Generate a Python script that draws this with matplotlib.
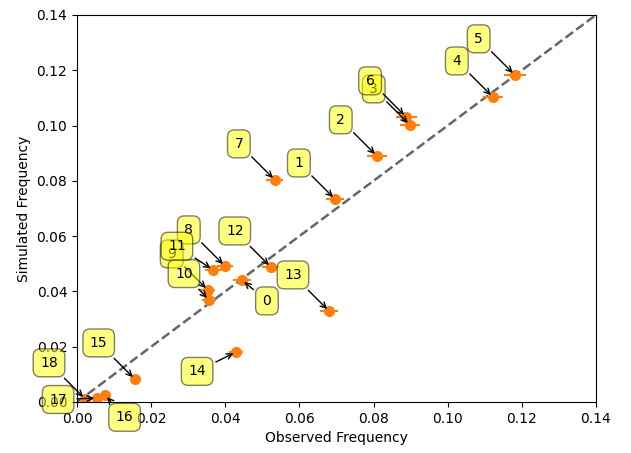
import matplotlib
matplotlib.use("Agg")
import matplotlib.pyplot as plt
import numpy as np

labels = [str(i) for i in range(19)]
observed = [0.0445, 0.0696, 0.0809, 0.0898, 0.1122, 0.1181, 0.0888, 0.0534,
            0.0399, 0.0353, 0.0356, 0.0367, 0.0523, 0.0680, 0.0429, 0.0156,
            0.0076, 0.0054, 0.0022]
simulated = [0.0441, 0.0734, 0.0890, 0.1002, 0.1103, 0.1183, 0.1031, 0.0803,
             0.0492, 0.0405, 0.0369, 0.0478, 0.0488, 0.0329, 0.0181, 0.0083,
             0.0025, 0.0014, 0.0011]
obs_err = [0.0024, 0.0024, 0.0026, 0.0028, 0.0028, 0.0030, 0.0028, 0.0023,
           0.0022, 0.0020, 0.0020, 0.0021, 0.0023, 0.0024, 0.0020, 0.0012,
           0.0008, 0.0007, 0.0005]

# label offsets in points (dx, dy) from the point to the label centre
offsets = {
    "0": (18, -15), "10": (-18, 19), "11": (-26, 17), "14": (-28, -14),
    "16": (14, -16), "17": (-28, -1),
}
default_offset = (-26, 26)

fig = plt.figure(figsize=(6.31, 4.53), dpi=100)
ax = fig.add_axes([0.122, 0.1126, 0.8225, 0.8544])

ax.plot([0, 0.14], [0, 0.14], linestyle="--", color="#666666", linewidth=1.8, zorder=1)
ax.errorbar(observed, simulated, xerr=obs_err, fmt="o", color="#ff7f0e",
            ecolor="#ff7f0e", markersize=7, elinewidth=1.5, capsize=0, zorder=2)

for lab, x, y in zip(labels, observed, simulated):
    dx, dy = offsets.get(lab, default_offset)
    ax.annotate(lab, xy=(x, y), xytext=(dx, dy), textcoords="offset points",
                ha="center", va="center", fontsize=10,
                bbox=dict(boxstyle="round,pad=0.5", fc="yellow", alpha=0.5),
                arrowprops=dict(arrowstyle="->", connectionstyle="arc3,rad=0", color="black"))

ax.set_xlim(0, 0.14)
ax.set_ylim(0, 0.14)
ticks = np.arange(0, 0.1401, 0.02)
ax.set_xticks(ticks)
ax.set_yticks(ticks)
ax.set_xticklabels([f"{t:.2f}" for t in ticks])
ax.set_yticklabels([f"{t:.2f}" for t in ticks])
ax.set_xlabel("Observed Frequency")
ax.set_ylabel("Simulated Frequency")

fig.savefig("out.png", dpi=100)
